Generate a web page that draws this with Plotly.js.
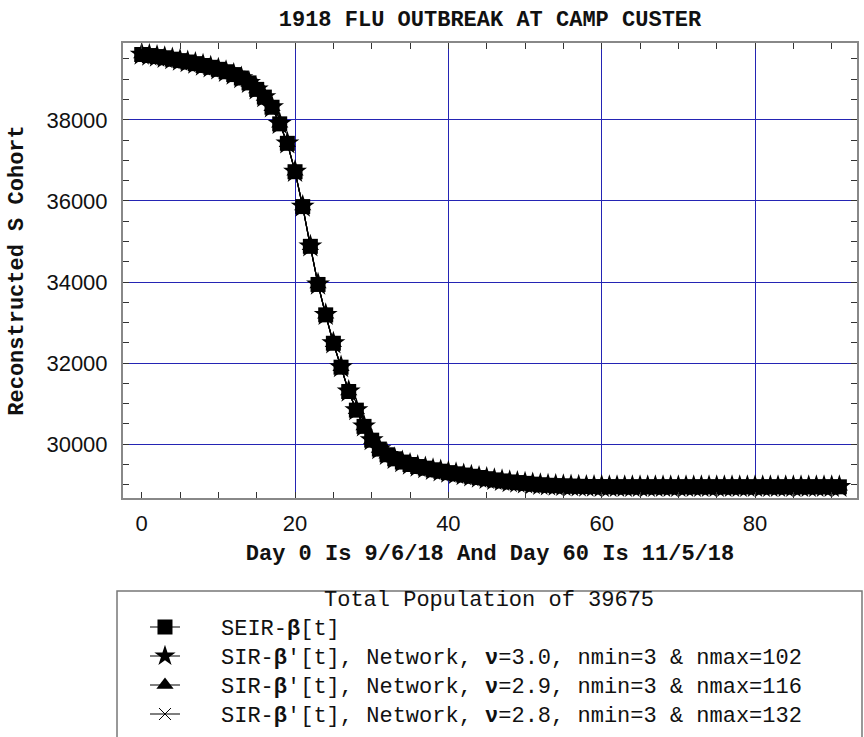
<!DOCTYPE html>
<html>
<head>
<meta charset="utf-8">
<script src="https://cdn.plot.ly/plotly-3.0.1.min.js"></script>
<style>html,body{margin:0;padding:0;background:#fff;}</style>
</head>
<body>
<div id="chart" style="width:864px;height:737px;"></div>
<script>
// Day index (Day 0 is 9/6/18)
const days = [0,1,2,3,4,5,6,7,8,9,10,11,12,13,14,15,16,17,18,19,20,21,22,23,24,25,26,27,28,29,
  30,31,32,33,34,35,36,37,38,39,40,41,42,43,44,45,46,47,48,49,50,51,52,53,54,55,56,57,58,59,
  60,61,62,63,64,65,66,67,68,69,70,71,72,73,74,75,76,77,78,79,80,81,82,83,84,85,86,87,88,89,90,91];

// Reconstructed S cohort, SEIR-beta[t]
const seirS = [39610,39585,39560,39530,39495,39460,39425,39385,39340,39295,39245,39185,39115,39030,38910,38750,38560,38310,37900,37420,
  36720,35860,34880,33940,33190,32490,31900,31300,30840,30440,30100,29880,29740,29640,29560,29500,29450,29410,29370,29335,
  29300,29270,29240,29210,29180,29150,29120,29095,29070,29055,29035,29015,29000,28988,28978,28972,28966,28962,28958,28955,
  28953,28952,28951,28950,28950,28950,28950,28950,28950,28950,28950,28950,28950,28950,28950,28950,28950,28950,28950,28950,
  28950,28950,28950,28950,28950,28950,28950,28950,28950,28950,28950,28950];

// SIR-beta'[t] network models (indistinguishable from SEIR in the picture)
const sirNu30 = [39610,39585,39560,39530,39495,39460,39425,39385,39340,39295,39245,39185,39115,39030,38910,38750,38560,38310,37900,37420,
  36720,35860,34880,33940,33190,32490,31900,31300,30840,30440,30100,29880,29740,29640,29560,29500,29450,29410,29370,29335,
  29300,29270,29240,29210,29180,29150,29120,29095,29070,29055,29035,29015,29000,28988,28978,28972,28966,28962,28958,28955,
  28953,28952,28951,28950,28950,28950,28950,28950,28950,28950,28950,28950,28950,28950,28950,28950,28950,28950,28950,28950,
  28950,28950,28950,28950,28950,28950,28950,28950,28950,28950,28950,28950];
const sirNu29 = sirNu30.slice();
const sirNu28 = sirNu30.slice();

const seriesLabels = [
  "SEIR-<b>β</b>[t]",
  "SIR-<b>β</b>'[t], Network, <b>ν</b>=3.0, nmin=3 &amp; nmax=102",
  "SIR-<b>β</b>'[t], Network, <b>ν</b>=2.9, nmin=3 &amp; nmax=116",
  "SIR-<b>β</b>'[t], Network, <b>ν</b>=2.8, nmin=3 &amp; nmax=132"
];
const legendTitle = 'Total Population of 39675';
const xTickVals = [0,20,40,60,80];
const yTickVals = [30000,32000,34000,36000,38000];

const mono = "Liberation Mono, Courier New, monospace";
const sans = "Liberation Sans, Arial, sans-serif";
const lineStyle = {color:'#000', width:1.2};
const nm = s => '\u00A0\u00A0\u00A0<span style="font-size:22px">' + s + '</span>';

// drawn bottom-up so squares sit on top; legend reversed
const traces = [
  {x:days, y:sirNu28, name:nm(seriesLabels[3]), mode:'lines+markers', line:lineStyle,
   marker:{symbol:'x-thin-open', size:12, color:'#000', line:{color:'#000', width:1}}},
  {x:days, y:sirNu29, name:nm(seriesLabels[2]), mode:'lines+markers', line:lineStyle,
   marker:{symbol:'triangle-up', size:15, color:'#000'}},
  {x:days, y:sirNu30, name:nm(seriesLabels[1]), mode:'lines+markers', line:lineStyle,
   marker:{symbol:'star', size:18, color:'#000'}},
  {x:days, y:seirS, name:nm(seriesLabels[0]), mode:'lines+markers', line:lineStyle,
   marker:{symbol:'square', size:15, color:'#000'}}
];

const gridBlue = '#2424b4';
const axisCommon = {
  ticks:'inside', ticklen:6, tickwidth:1, tickcolor:'#333',
  showline:true, linecolor:'#888', linewidth:2, mirror:'ticks',
  showgrid:true, gridcolor:gridBlue, gridwidth:1,
  tickfont:{family:sans, size:22, color:'#111'}
};

const layout = {
  width:864, height:737,
  margin:{l:123, r:7, t:43, b:239, pad:0, autoexpand:false},
  paper_bgcolor:'#fff', plot_bgcolor:'#fff',
  showlegend:true,
  title:{text:'<b>1918 FLU OUTBREAK AT CAMP CUSTER</b>', font:{family:mono, size:22, color:'#111'},
         xref:'paper', x:0.5, xanchor:'center', yref:'container', y:1-18.5/737, yanchor:'middle'},
  xaxis:Object.assign({}, axisCommon, {
    range:[-2.44, 93.3], tickvals:xTickVals, ticktext:xTickVals.map(String),
    ticklabelstandoff:5,
    zeroline:true, zerolinecolor:'rgba(0,0,0,0)',
    minor:{dtick:5, tick0:0, ticks:'inside', ticklen:6, tickcolor:'#333', showgrid:false},
    title:{text:'<b>Day 0 Is 9/6/18 And Day 60 Is 11/5/18</b>', font:{family:mono, size:22, color:'#111'}, standoff:9}
  }),
  yaxis:Object.assign({}, axisCommon, {
    range:[28674, 39894], tickvals:yTickVals, ticktext:yTickVals.map(String),
    ticklabelstandoff:9,
    zeroline:false,
    minor:{dtick:500, tick0:0, ticks:'inside', ticklen:6, tickcolor:'#333', showgrid:false},
    title:{text:'<b>Reconstructed S Cohort</b>', font:{family:mono, size:22, color:'#111'}, standoff:17}
  }),
  legend:{
    x:(145-123)/734.5, xanchor:'left', y:(498-607.5)/455, yanchor:'top',
    traceorder:'reversed', bgcolor:'rgba(0,0,0,0)', borderwidth:0,
    font:{family:mono, size:20, color:'#111'}, itemwidth:30
  },
  shapes:[{type:'rect', xref:'paper', yref:'paper',
    x0:(117-123)/734.5, x1:(862.5-123)/734.5, y0:(498-591)/455, y1:(498-760)/455,
    line:{color:'#777', width:1.5}, fillcolor:'rgba(0,0,0,0)'}],
  annotations:[{text:legendTitle, xref:'paper', yref:'paper',
    x:(489-123)/734.5, y:(498-600)/455, xanchor:'center', yanchor:'middle', showarrow:false,
    font:{family:mono, size:22, color:'#111'}}]
};

Plotly.newPlot('chart', traces, layout, {displayModeBar:false, staticPlot:true});
</script>
</body>
</html>
